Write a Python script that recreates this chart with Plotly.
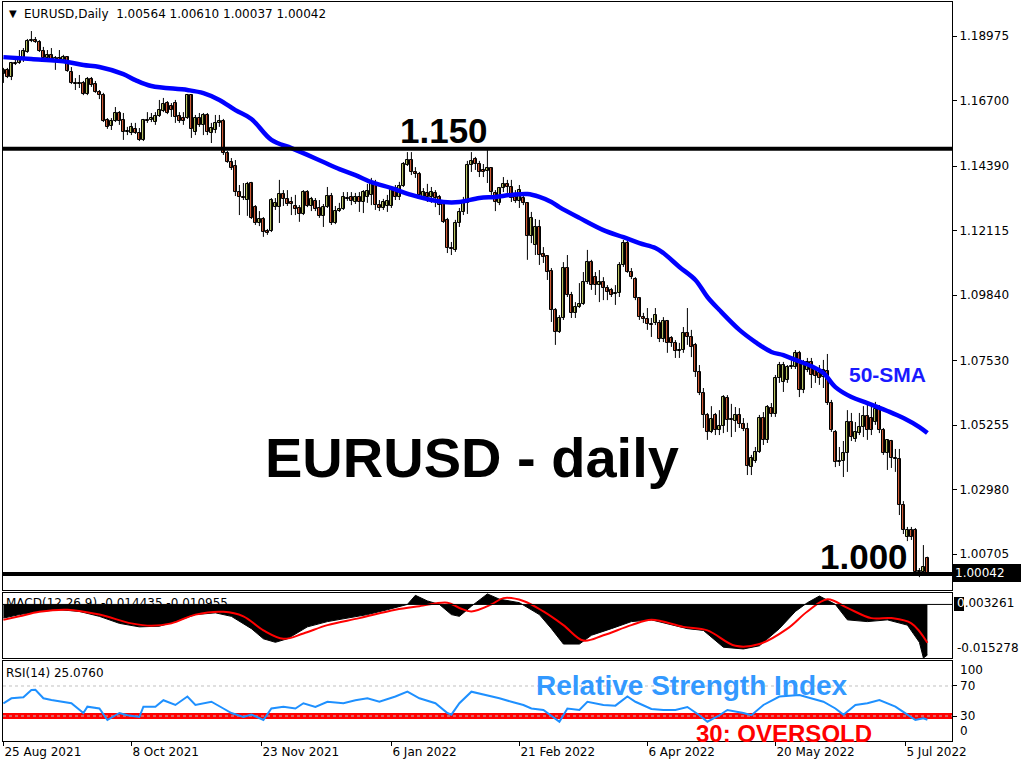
import plotly.graph_objects as go

# ---------------- data ----------------
opens = [1.1764,1.1778,1.1753,1.1802,1.1802,1.1813,1.1841,1.1880,1.1883,1.1876,
1.1845,1.1820,1.1831,1.1813,1.1820,1.1813,1.1824,1.1771,1.1732,1.1728,
1.1732,1.1693,1.1746,1.1728,1.1700,1.1689,1.1601,1.1580,1.1598,1.1626,
1.1601,1.1559,1.1555,1.1570,1.1555,1.1531,1.1601,1.1601,1.1594,1.1615,
1.1633,1.1661,1.1651,1.1661,1.1615,1.1608,1.1608,1.1689,1.1559,1.1608,
1.1584,1.1619,1.1555,1.1566,1.1591,1.1598,1.1485,1.1453,1.1439,1.1347,
1.1330,1.1319,1.1379,1.1294,1.1238,1.1252,1.1210,1.1210,1.1294,1.1294,
1.1340,1.1323,1.1312,1.1298,1.1291,1.1270,1.1347,1.1298,1.1316,1.1291,
1.1263,1.1294,1.1333,1.1238,1.1280,1.1287,1.1326,1.1330,1.1312,1.1330,
1.1312,1.1330,1.1337,1.1372,1.1301,1.1291,1.1298,1.1298,1.1361,1.1330,
1.1368,1.1443,1.1460,1.1418,1.1411,1.1330,1.1344,1.1330,1.1344,1.1330,
1.1309,1.1249,1.1150,1.1143,1.1238,1.1277,1.1309,1.1443,1.1464,1.1446,
1.1425,1.1421,1.1432,1.1344,1.1309,1.1361,1.1376,1.1365,1.1330,1.1316,
1.1326,1.1309,1.1192,1.1160,1.1224,1.1129,1.1122,1.1069,1.0931,1.0854,
1.0903,1.1079,1.0984,1.0921,1.0942,1.0952,1.1030,1.1100,1.1047,1.1019,
1.1030,1.1009,1.1002,1.0988,1.0991,1.1090,1.1167,1.1065,1.1040,1.0973,
1.0906,1.0899,1.0882,1.0885,1.0885,1.0829,1.0892,1.0832,1.0815,1.0787,
1.0790,1.0850,1.0836,1.0808,1.0712,1.0638,1.0561,1.0501,1.0561,1.0508,
1.0522,1.0621,1.0543,1.0540,1.0561,1.0529,1.0511,1.0377,1.0399,1.0430,
1.0550,1.0473,1.0585,1.0564,1.0691,1.0677,1.0684,1.0730,1.0730,1.0780,
1.0649,1.0720,1.0748,1.0720,1.0709,1.0695,1.0716,1.0603,1.0501,1.0395,
1.0399,1.0427,1.0536,1.0476,1.0497,1.0518,1.0557,1.0550,1.0536,1.0582,
1.0508,1.0427,1.0469,1.0409,1.0406,1.0243,1.0130,1.0155,1.0155,1.0007,
1.0007,1.00564]
highs = [1.1785,1.1785,1.1806,1.1820,1.1848,1.1855,1.1887,1.1915,1.1894,1.1883,
1.1859,1.1848,1.1855,1.1827,1.1848,1.1831,1.1827,1.1788,1.1749,1.1760,
1.1739,1.1753,1.1753,1.1739,1.1707,1.1697,1.1608,1.1608,1.1647,1.1633,
1.1626,1.1577,1.1591,1.1591,1.1573,1.1605,1.1629,1.1626,1.1629,1.1672,
1.1679,1.1668,1.1661,1.1672,1.1629,1.1629,1.1693,1.1693,1.1619,1.1626,
1.1626,1.1626,1.1591,1.1619,1.1619,1.1605,1.1492,1.1467,1.1460,1.1372,
1.1379,1.1383,1.1383,1.1301,1.1280,1.1259,1.1217,1.1326,1.1326,1.1390,
1.1354,1.1354,1.1330,1.1337,1.1301,1.1354,1.1354,1.1330,1.1326,1.1319,
1.1305,1.1365,1.1344,1.1298,1.1309,1.1347,1.1347,1.1347,1.1344,1.1347,
1.1354,1.1376,1.1397,1.1390,1.1319,1.1323,1.1337,1.1361,1.1372,1.1383,
1.1453,1.1488,1.1488,1.1435,1.1418,1.1361,1.1376,1.1365,1.1354,1.1337,
1.1312,1.1256,1.1171,1.1249,1.1291,1.1330,1.1457,1.1488,1.1471,1.1457,
1.1446,1.1495,1.1435,1.1354,1.1365,1.1400,1.1390,1.1390,1.1354,1.1372,
1.1337,1.1312,1.1277,1.1252,1.1249,1.1153,1.1125,1.1079,1.0938,1.0913,
1.1100,1.1125,1.0995,1.0959,1.1026,1.1065,1.1143,1.1108,1.1065,1.1072,
1.1047,1.1019,1.1009,1.1019,1.1100,1.1178,1.1178,1.1079,1.1047,1.0977,
1.0921,1.0938,1.0903,1.0938,1.0896,1.0906,1.0896,1.0839,1.0825,1.0815,
1.0871,1.0938,1.0861,1.0815,1.0737,1.0656,1.0568,1.0592,1.0568,1.0578,
1.0631,1.0631,1.0600,1.0589,1.0585,1.0550,1.0533,1.0420,1.0448,1.0561,
1.0571,1.0596,1.0603,1.0702,1.0748,1.0748,1.0737,1.0755,1.0790,1.0787,
1.0755,1.0762,1.0762,1.0730,1.0737,1.0755,1.0776,1.0614,1.0508,1.0448,
1.0469,1.0578,1.0568,1.0536,1.0568,1.0592,1.0596,1.0600,1.0607,1.0596,
1.0515,1.0476,1.0473,1.0441,1.0441,1.0257,1.0166,1.0166,1.0162,1.0021,
1.0102,1.00610]
lows = [1.1732,1.1749,1.1742,1.1795,1.1799,1.1806,1.1838,1.1876,1.1873,1.1841,
1.1816,1.1813,1.1806,1.1778,1.1809,1.1806,1.1771,1.1728,1.1707,1.1714,
1.1689,1.1689,1.1718,1.1697,1.1675,1.1594,1.1570,1.1566,1.1594,1.1584,
1.1531,1.1548,1.1548,1.1552,1.1527,1.1527,1.1591,1.1594,1.1584,1.1612,
1.1629,1.1622,1.1612,1.1591,1.1591,1.1584,1.1605,1.1538,1.1548,1.1577,
1.1548,1.1548,1.1520,1.1555,1.1577,1.1478,1.1450,1.1425,1.1333,1.1266,
1.1319,1.1263,1.1252,1.1231,1.1227,1.1189,1.1196,1.1206,1.1284,1.1238,
1.1298,1.1298,1.1266,1.1266,1.1242,1.1266,1.1294,1.1280,1.1280,1.1256,
1.1224,1.1291,1.1231,1.1234,1.1277,1.1284,1.1316,1.1301,1.1305,1.1277,
1.1273,1.1309,1.1301,1.1284,1.1280,1.1284,1.1277,1.1291,1.1319,1.1319,
1.1365,1.1439,1.1407,1.1397,1.1330,1.1319,1.1312,1.1309,1.1294,1.1266,
1.1238,1.1132,1.1125,1.1136,1.1224,1.1266,1.1270,1.1418,1.1425,1.1400,
1.1400,1.1379,1.1337,1.1280,1.1301,1.1347,1.1344,1.1312,1.1309,1.1291,
1.1301,1.1108,1.1167,1.1125,1.1090,1.1097,1.1037,1.0889,1.0808,1.0850,
1.0896,1.0977,1.0903,1.0903,1.0938,1.0949,1.1023,1.1002,1.0984,1.0959,
1.0966,1.0966,1.0977,1.0949,1.0977,1.1083,1.1062,1.1040,1.0966,1.0896,
1.0885,1.0861,1.0836,1.0878,1.0818,1.0818,1.0780,1.0801,1.0762,1.0762,
1.0780,1.0808,1.0765,1.0695,1.0631,1.0515,1.0473,1.0497,1.0490,1.0490,
1.0497,1.0501,1.0483,1.0501,1.0515,1.0504,1.0349,1.0349,1.0392,1.0427,
1.0455,1.0462,1.0554,1.0554,1.0674,1.0642,1.0674,1.0723,1.0723,1.0624,
1.0638,1.0712,1.0656,1.0674,1.0667,1.0656,1.0596,1.0501,1.0377,1.0381,
1.0342,1.0360,1.0469,1.0466,1.0490,1.0483,1.0473,1.0490,1.0526,1.0497,
1.0420,1.0367,1.0374,1.0360,1.0208,1.0141,1.0116,1.0120,1.0000,0.9989,
1.0000,1.00037]
closes = [1.1778,1.1753,1.1802,1.1799,1.1813,1.1845,1.1880,1.1883,1.1876,1.1845,
1.1820,1.1831,1.1813,1.1820,1.1813,1.1824,1.1774,1.1732,1.1728,1.1732,
1.1693,1.1746,1.1725,1.1700,1.1689,1.1598,1.1577,1.1598,1.1626,1.1598,
1.1559,1.1562,1.1577,1.1555,1.1531,1.1601,1.1598,1.1608,1.1615,1.1637,
1.1658,1.1626,1.1637,1.1612,1.1598,1.1598,1.1689,1.1570,1.1608,1.1584,
1.1619,1.1559,1.1573,1.1591,1.1598,1.1485,1.1453,1.1432,1.1347,1.1330,
1.1326,1.1376,1.1256,1.1238,1.1252,1.1206,1.1203,1.1319,1.1309,1.1340,
1.1323,1.1305,1.1305,1.1287,1.1270,1.1347,1.1298,1.1323,1.1287,1.1263,
1.1294,1.1333,1.1238,1.1280,1.1287,1.1330,1.1323,1.1316,1.1330,1.1312,
1.1347,1.1351,1.1379,1.1301,1.1291,1.1312,1.1316,1.1354,1.1330,1.1368,
1.1446,1.1460,1.1418,1.1411,1.1337,1.1347,1.1330,1.1347,1.1326,1.1301,
1.1242,1.1150,1.1146,1.1238,1.1277,1.1309,1.1443,1.1457,1.1446,1.1418,
1.1418,1.1432,1.1347,1.1312,1.1361,1.1376,1.1365,1.1326,1.1316,1.1354,
1.1309,1.1192,1.1256,1.1224,1.1125,1.1118,1.1065,1.0931,1.0854,1.0903,
1.1079,1.0984,1.0921,1.0942,1.0952,1.1030,1.1100,1.1019,1.1019,1.1030,
1.1009,1.0995,1.0984,1.0991,1.1090,1.1167,1.1065,1.1047,1.0973,1.0906,
1.0899,1.0882,1.0878,1.0914,1.0829,1.0892,1.0815,1.0815,1.0787,1.0790,
1.0850,1.0836,1.0801,1.0712,1.0638,1.0561,1.0501,1.0547,1.0508,1.0522,
1.0624,1.0543,1.0547,1.0561,1.0529,1.0511,1.0381,1.0409,1.0430,1.0550,
1.0473,1.0589,1.0564,1.0691,1.0737,1.0737,1.0730,1.0734,1.0780,1.0649,
1.0748,1.0748,1.0702,1.0698,1.0691,1.0720,1.0603,1.0508,1.0395,1.0399,
1.0427,1.0536,1.0483,1.0501,1.0518,1.0557,1.0508,1.0508,1.0582,1.0508,
1.0427,1.0473,1.0409,1.0406,1.0243,1.0155,1.0155,1.0130,1.0007,1.0011,
1.0025,1.00042]

sma_idx = [0,7,16,20,24,30,33,37,46,50,54,58,62,67,72,76,80,84,88,92,97,102,106,110,114,
           119,123,127,131,134,137,139,144,150,155,159,163,165,169,173,176,179,184,188,
           192,195,198,202,205,208,212,216,221,225,229,231]
sma_vals = [1.1823,1.1816,1.1806,1.1795,1.1788,1.1763,1.1742,1.1721,1.1707,1.1696,1.1672,
            1.1636,1.1605,1.1531,1.1502,1.1478,1.1453,1.1428,1.1407,1.1382,1.1361,1.1337,
            1.1322,1.1312,1.1312,1.1326,1.1330,1.1337,1.1340,1.1330,1.1312,1.1294,1.1256,
            1.1213,1.1188,1.1167,1.1150,1.1132,1.1083,1.1037,1.0977,1.0931,1.0861,1.0818,
            1.0783,1.0772,1.0755,1.0733,1.0709,1.0659,1.0624,1.0603,1.0575,1.0550,1.0518,
            1.0497]

macd_idx = [0,4,9,14,19,24,29,34,39,43,48,53,57,62,65,68,71,76,81,86,91,96,101,103,106,109,
            112,114,117,121,124,129,134,137,140,144,147,152,157,162,167,171,175,180,185,189,
            194,198,201,204,208,211,216,221,226,229,230,231]
macd_hist = [-0.0039,-0.0029,-0.0020,-0.0015,-0.0020,-0.0034,-0.0054,-0.0064,-0.0062,-0.0049,
             -0.0029,-0.0024,-0.0034,-0.0069,-0.0098,-0.0108,-0.0098,-0.0064,-0.0049,-0.0039,
             -0.0029,-0.0015,0.0000,0.0026,0.0010,0.0000,-0.0029,-0.0034,-0.0005,0.0030,
             0.0015,0.0005,-0.0029,-0.0069,-0.0113,-0.0113,-0.0088,-0.0069,-0.0049,-0.0044,
             -0.0059,-0.0069,-0.0074,-0.0122,-0.0127,-0.0118,-0.0069,-0.0020,0.0005,0.0024,
             0.0000,-0.0044,-0.0049,-0.0044,-0.0059,-0.0108,-0.015278,-0.014435]
signal_idx = [0,4,9,16,24,32,37,42,48,55,60,65,70,75,81,89,98,104,111,114,117,122,125,130,
              135,140,145,150,157,162,170,176,183,189,196,201,206,211,217,222,227,231]
signal_vals = [-0.0044,-0.0034,-0.0021,-0.0015,-0.0029,-0.0054,-0.0061,-0.0054,-0.0029,-0.0021,
               -0.0034,-0.0074,-0.0098,-0.0083,-0.0059,-0.0039,-0.0015,-0.0005,0.0005,-0.0010,
               -0.0020,0.0000,0.0018,0.0010,-0.0020,-0.0059,-0.0103,-0.0088,-0.0059,-0.0044,
               -0.0064,-0.0074,-0.0118,-0.0113,-0.0069,-0.0020,0.0015,-0.0010,-0.0039,-0.0039,
               -0.0054,-0.010955]

rsi_idx = [0,2,5,7,8,10,12,15,17,20,21,24,26,29,31,34,35,38,40,43,46,48,52,55,57,60,62,65,67,
           70,73,75,78,81,85,88,91,94,98,101,104,108,111,112,114,117,119,121,124,127,130,132,
           135,139,141,144,146,150,153,156,158,162,165,168,171,174,176,179,181,185,187,190,
           194,199,202,205,208,210,213,216,219,222,223,226,228,230,231]
rsi_vals = [46.9,53.6,55.0,64.7,65.0,53.6,51.3,49.0,47.0,34.0,42.4,40.0,24.7,34.0,31.0,28.7,
            42.4,42.4,51.0,44.7,56.0,44.7,49.0,40.0,34.0,28.7,32.0,24.7,40.0,42.4,40.0,47.0,
            42.0,49.0,47.0,51.0,53.6,49.0,56.0,62.4,53.6,47.0,34.0,31.8,47.0,62.4,60.0,58.0,
            53.6,49.0,44.7,40.0,38.0,22.4,40.0,38.0,49.0,44.7,43.8,56.0,49.0,39.3,38.0,38.0,
            42.0,31.0,22.4,31.0,38.0,34.0,31.0,44.7,56.0,58.0,53.6,49.0,40.0,31.8,44.7,47.0,
            51.3,44.7,42.4,31.8,24.7,27.0,25.076]

price_ticks = [1.18975, 1.16700, 1.14390, 1.12115, 1.09840, 1.07530, 1.05255, 1.02980, 1.00705]
date_ticks = [0, 32, 64.5, 97, 129, 161, 193, 225.5]
date_labels = ["25 Aug 2021", "8 Oct 2021", "23 Nov 2021", "6 Jan 2022",
               "21 Feb 2022", "6 Apr 2022", "20 May 2022", "5 Jul 2022"]
levels = [1.150, 1.000]
level_labels = ["1.150", "1.000"]
last_price = 1.00042
macd_limits = [-0.015278, 0.003261]
rsi_levels = [30, 70]
rsi_labels = [100, 70, 30, 0]

# ---------------- layout helpers (pixels -> paper) ----------------
W, H = 1024, 768
def fx(x):
    return x / W
def fy(y):
    return 1 - y / H

BULL = "#d2dc6e"
BEAR = "#e8663c"
UI = dict(family="DejaVu Sans", size=12, color="black")
idx = list(range(len(closes)))

# candle bodies (bars from open to close) and wicks (low-high segments)
body_base = [min(o, c) for o, c in zip(opens, closes)]
body_size = [max(abs(c - o), 0.00005) for o, c in zip(opens, closes)]
body_color = [BULL if c >= o else BEAR for o, c in zip(opens, closes)]
wick_x, wick_y = [], []
for i, lo, hi in zip(idx, lows, highs):
    wick_x += [i, i, None]
    wick_y += [lo, hi, None]

fig = go.Figure()
fig.add_trace(go.Scatter(x=wick_x, y=wick_y, mode="lines",
    line=dict(color="black", width=1), showlegend=False, hoverinfo="skip",
    xaxis="x", yaxis="y"))
fig.add_trace(go.Bar(x=idx, y=body_size, base=body_base, width=0.7,
    marker=dict(color=body_color, line=dict(color="black", width=1)),
    showlegend=False, hoverinfo="skip", xaxis="x", yaxis="y"))
fig.add_trace(go.Scatter(x=sma_idx, y=sma_vals, mode="lines",
    line=dict(color="#0000ff", width=4.5, shape="spline"),
    showlegend=False, hoverinfo="skip", xaxis="x", yaxis="y"))
fig.add_trace(go.Scatter(x=macd_idx, y=macd_hist, mode="lines", fill="tozeroy",
    fillcolor="black", line=dict(color="black", width=1),
    showlegend=False, hoverinfo="skip", xaxis="x2", yaxis="y2"))
fig.add_trace(go.Scatter(x=signal_idx, y=signal_vals, mode="lines",
    line=dict(color="#ff0000", width=2, shape="spline"),
    showlegend=False, hoverinfo="skip", xaxis="x2", yaxis="y2"))
fig.add_trace(go.Scatter(x=rsi_idx, y=rsi_vals, mode="lines",
    line=dict(color="#1e90ff", width=2),
    showlegend=False, hoverinfo="skip", xaxis="x3", yaxis="y3"))

xdom = [fx(3), fx(952)]
xrange_ = [-0.1, 237.15]
common_x = dict(domain=xdom, range=xrange_, showgrid=False, zeroline=False,
                showline=True, mirror=True, linecolor="black", linewidth=1,
                fixedrange=True, automargin=False)
common_y = dict(showgrid=False, zeroline=False, showline=True, mirror=True,
                linecolor="black", linewidth=1, side="right", fixedrange=True,
                automargin=False)

p_top = 1.18975 + 34 * 0.0003527
p_bot = 1.18975 - 554 * 0.0003527

fig.update_layout(
    width=W, height=H, margin=dict(l=0, r=0, t=0, b=0, autoexpand=False),
    paper_bgcolor="white", plot_bgcolor="white", showlegend=False,
    bargap=0,
    xaxis=dict(**common_x, anchor="y", showticklabels=False, ticks=""),
    xaxis2=dict(**common_x, anchor="y2", matches="x", showticklabels=False, ticks=""),
    xaxis3=dict(**common_x, anchor="y3", matches="x", tickmode="array",
                tickvals=date_ticks, ticktext=date_labels, ticks="outside",
                ticklen=4, tickcolor="black", ticklabelposition="outside right",
                tickfont=UI),
    yaxis=dict(**common_y, domain=[fy(590), fy(2)], range=[p_bot, p_top],
               anchor="x", tickmode="array", tickvals=price_ticks,
               ticktext=[f"{v:.5f}" for v in price_ticks], ticks="outside",
               ticklen=4, tickcolor="black", tickfont=UI),
    yaxis2=dict(**common_y, domain=[fy(658), fy(593)], range=macd_limits,
                anchor="x2", showticklabels=False, ticks=""),
    yaxis3=dict(**common_y, domain=[fy(741), fy(661)], range=[-3.3, 103.3],
                anchor="x3", tickmode="array", tickvals=rsi_levels,
                showticklabels=False, ticks="outside", ticklen=4, tickcolor="black"),
)

shapes = []
for lv in levels:
    shapes.append(dict(type="line", xref="paper", yref="y", x0=xdom[0], x1=xdom[1],
                       y0=lv, y1=lv, line=dict(color="black", width=4), layer="above"))
shapes.append(dict(type="line", xref="paper", yref="y2", x0=xdom[0], x1=xdom[1],
                   y0=0, y1=0, line=dict(color="black", width=1), layer="above"))
shapes.append(dict(type="line", xref="paper", yref="y3", x0=xdom[0], x1=xdom[1],
                   y0=rsi_levels[0], y1=rsi_levels[0],
                   line=dict(color="#ff0000", width=6), layer="below"))
for lv in rsi_levels:
    shapes.append(dict(type="line", xref="paper", yref="y3", x0=xdom[0], x1=xdom[1],
                       y0=lv, y1=lv, line=dict(color="#c0c0c0", width=1, dash="dot"),
                       layer="below"))
shapes.append(dict(type="rect", xref="paper", yref="paper", x0=fx(954), x1=fx(964),
                   y0=fy(611), y1=fy(597), fillcolor="black", line=dict(width=0),
                   layer="above"))
fig.update_layout(shapes=shapes)

ann = []
def text(x, y, s, font, xanchor="left", yanchor="middle", **kw):
    ann.append(dict(x=fx(x), y=fy(y), xref="paper", yref="paper", text=s,
                    showarrow=False, font=font, xanchor=xanchor, yanchor=yanchor, **kw))

text(7, 14, "\u25BC", dict(family="DejaVu Sans", size=10, color="black"))
text(22, 14, "EURUSD,Daily \u00a01.00564 1.00610 1.00037 1.00042", UI)
text(4, 603, "MACD(12,26,9) -0.014435 -0.010955", UI)
text(4, 673, "RSI(14) 25.0760", UI)
text(953, 573, f"{last_price:.5f}", dict(family="DejaVu Sans", size=12, color="white"),
     bgcolor="black", bordercolor="black", borderpad=1, width=64, align="left")
macd_top = f"{macd_limits[1]:.6f}"
text(955, 603, "<span style='color:white'>" + macd_top[0] + "</span>" + macd_top[1:], UI)
text(955, 648, f"{macd_limits[0]:.6f}", UI)
for lab, yy in zip(rsi_labels, [670, 686, 716, 731]):
    text(958, yy, str(lab), UI)

BIG = "Liberation Sans"
text(444, 130, "<b>" + level_labels[0] + "</b>", dict(family=BIG, size=35, color="black"), xanchor="center")
text(864, 556, "<b>" + level_labels[1] + "</b>", dict(family=BIG, size=35, color="black"), xanchor="center")
text(472, 457, "<b>EURUSD - daily</b>", dict(family=BIG, size=56, color="black"), xanchor="center")
text(887, 374, "<b>50-SMA</b>", dict(family=BIG, size=21, color="#1a1aff"), xanchor="center")
text(692, 685, "<b>Relative Strength Index</b>", dict(family=BIG, size=28, color="#3399ff"), xanchor="center")
text(784, 733, "<b>30: OVERSOLD</b>", dict(family=BIG, size=24, color="#ff0000"), xanchor="center")

fig.update_layout(annotations=ann)

fig.write_html("out.html", config=dict(displayModeBar=False),
               post_script="document.body.style.margin='0';document.body.style.overflow='hidden';")
